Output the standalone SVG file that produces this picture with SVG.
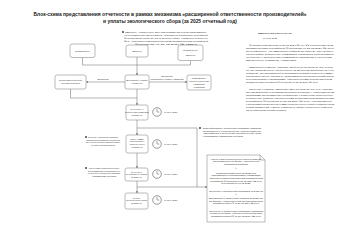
<svg xmlns="http://www.w3.org/2000/svg" width="340" height="240" viewBox="0 0 340 240">
<defs>
<style>
text{font-family:"Liberation Sans",Arial,sans-serif;fill:#333}
.title{font-size:5px;font-weight:bold;fill:#222;text-anchor:middle}
.n{font-size:2.1px;text-anchor:middle}
.p{font-size:2.2px}
.c{text-anchor:middle}
.node rect,.box{fill:#fff;stroke:#777;stroke-width:0.5}
.conn path{stroke:#666;stroke-width:0.5;fill:none}
.clk circle{fill:#fff;stroke:#555;stroke-width:0.6}
.clk path{stroke:#555;stroke-width:0.5;fill:none}
.dot{fill:#444}
</style>
<marker id="ah" viewBox="0 0 6 6" refX="5" refY="3" markerWidth="4" markerHeight="4" orient="auto"><path d="M0,0L6,3L0,6Z" fill="#666"/></marker>
</defs>
<rect width="340" height="240" fill="#fff"/>

<g id="title">
<text class="title" x="170" y="15.5" textLength="273" lengthAdjust="spacingAndGlyphs">Блок-схема представления отчетности в рамках механизма «расширенной ответственности производителей»</text>
<text class="title" x="170" y="22.5" textLength="134" lengthAdjust="spacingAndGlyphs">и уплаты экологического сбора (за 2025 отчетный год)</text>
</g>

<g id="note-top" class="p">
<circle class="dot" cx="123" cy="32" r="1"/>
<text class="c" x="166" y="33" textLength="82" lengthAdjust="spacingAndGlyphs">Импортер – юридическое лицо или индивидуальный предприниматель,</text>
<text class="c" x="166" y="36" textLength="84" lengthAdjust="spacingAndGlyphs">осуществляющие ввоз товаров, упаковки на территорию Российской</text>
<text class="c" x="166" y="39" textLength="84" lengthAdjust="spacingAndGlyphs">Федерации из стран ЕАЭС и третьих стран, указанных в перечне</text>
<text class="c" x="166" y="42" textLength="84" lengthAdjust="spacingAndGlyphs">№ 1, утвержденном распоряжением Правительства Российской</text>
<text class="c" x="166" y="45" textLength="62" lengthAdjust="spacingAndGlyphs">Федерации от 31.12.2024 № 4255-р</text>
</g>

<g id="right-column" class="p">
<text x="258" y="34" textLength="34" lengthAdjust="spacingAndGlyphs" style="font-weight:bold">ИМПОРТ ИЗ СТРАН ЕАЭС</text>
<text x="263" y="39" textLength="14" lengthAdjust="spacingAndGlyphs">С 01.01.2025</text>
<text x="249" y="46" textLength="84" lengthAdjust="spacingAndGlyphs">Федеральным законом от 26.12.2024 № 499-ФЗ и постановлением</text>
<text x="246" y="49" textLength="88" lengthAdjust="spacingAndGlyphs">Правительства Российской Федерации от 31.12.2024 № 1996</text>
<text x="246" y="52" textLength="87" lengthAdjust="spacingAndGlyphs">предусмотрено, что импортеры товаров из стран ЕАЭС обязаны</text>
<text x="246" y="55" textLength="88" lengthAdjust="spacingAndGlyphs">обеспечивать выполнение нормативов утилизации и представлять</text>
<text x="246" y="58" textLength="86" lengthAdjust="spacingAndGlyphs">отчетность о выполнении нормативов утилизации в отношении</text>
<text x="246" y="61" textLength="50" lengthAdjust="spacingAndGlyphs">ввезенных товаров, упаковки</text>
<text x="249" y="68" textLength="84" lengthAdjust="spacingAndGlyphs">Импортеры товаров, упаковки, ввезенных из стран ЕАЭС, в срок</text>
<text x="246" y="71" textLength="88" lengthAdjust="spacingAndGlyphs">до 15 числа месяца, следующего за месяцем принятия на учет</text>
<text x="246" y="74" textLength="87" lengthAdjust="spacingAndGlyphs">товаров, представляют в Росприроднадзор расчет суммы</text>
<text x="246" y="77" textLength="88" lengthAdjust="spacingAndGlyphs">экологического сбора и уплачивают экологический сбор</text>
<text x="246" y="80" textLength="86" lengthAdjust="spacingAndGlyphs">в соответствии с Правилами, утвержденными постановлением</text>
<text x="246" y="83" textLength="72" lengthAdjust="spacingAndGlyphs">Правительства Российской Федерации от 31.12.2024 № 1996</text>
<text x="249" y="90" textLength="84" lengthAdjust="spacingAndGlyphs">Сведения о товарах, импортируемых из стран ЕАЭС, и их упаковке</text>
<text x="246" y="93" textLength="88" lengthAdjust="spacingAndGlyphs">представляются в Росприроднадзор в порядке, установленном</text>
<text x="246" y="96" textLength="87" lengthAdjust="spacingAndGlyphs">Правилами представления декларации о количестве выпущенных</text>
<text x="246" y="99" textLength="88" lengthAdjust="spacingAndGlyphs">в обращение товаров, утвержденными постановлением Правительства</text>
<text x="246" y="102" textLength="86" lengthAdjust="spacingAndGlyphs">Российской Федерации от 31.12.2024 № 1996, одновременно</text>
<text x="246" y="105" textLength="88" lengthAdjust="spacingAndGlyphs">с представлением расчета суммы экологического сбора с приложением</text>
<text x="246" y="108" textLength="86" lengthAdjust="spacingAndGlyphs">копий заявлений о ввозе товаров и уплате косвенных налогов</text>
<text x="246" y="111" textLength="40" lengthAdjust="spacingAndGlyphs">за соответствующий период</text>
</g>

<g class="conn">
<path d="M82.5,57.5V65H190.5V60.5"/>
<path d="M137,57V75" marker-end="url(#ah)"/>
<path d="M125,82H86.5" marker-end="url(#ah)"/>
<path d="M149,82H187" marker-end="url(#ah)"/>
<path d="M70.5,89V98H137"/>
<path d="M137,89V105" marker-end="url(#ah)"/>
<path d="M137,120V135" marker-end="url(#ah)"/>
<path d="M137,128H197V187"/>
<path d="M137,153V168" marker-end="url(#ah)"/>
<path d="M137,181V193" marker-end="url(#ah)"/>
<path d="M137,187H207" marker-end="url(#ah)"/>
</g>

<g class="p">
<text class="c" x="103" y="80" style="font-size:2px">Декларация</text>
<text class="c" x="167" y="77" style="font-size:2px">Декларация</text>
<text class="c" x="167" y="80" style="font-size:2px">Уведомление о самост. утилизации</text>
</g>

<g id="n-producer" class="node">
<rect x="70" y="44" width="25" height="13.5" rx="2"/>
<text class="n" x="82.5" y="51.5">Производитель</text>
</g>
<g id="n-importer" class="node">
<rect x="126" y="45" width="22" height="12" rx="2"/>
<text class="n" x="137" y="51.7">Импортер</text>
</g>
<g id="n-prodimp" class="node">
<rect x="178" y="45" width="25" height="15.5" rx="2"/>
<text class="n" x="190.5" y="50.5">Производитель</text>
<text class="n" x="190.5" y="53.3">+</text>
<text class="n" x="190.5" y="56.1">Импортер</text>
</g>
<g id="n-territorial" class="node">
<rect x="55" y="75" width="31" height="14" rx="2"/>
<text class="n" x="70.5" y="81.3">Территориальный орган</text>
<text class="n" x="70.5" y="84.3">Росприроднадзора</text>
</g>
<g id="n-declaration" class="node">
<rect x="125" y="75" width="24" height="14" rx="2"/>
<text class="n" x="137" y="81.3">Декларация о товарах</text>
<text class="n" x="137" y="84.3">в 2025 году</text>
</g>
<g id="n-notice" class="node">
<rect x="187" y="75" width="24" height="15" rx="2"/>
<text class="n" x="199" y="79.2">Информация о</text>
<text class="n" x="199" y="82">способе выполнения</text>
<text class="n" x="199" y="84.8">нормативов</text>
<text class="n" x="199" y="87.6">утилизации</text>
</g>

<g id="n-report" class="node">
<rect x="126" y="105" width="22" height="15" rx="2"/>
<text class="n" x="137" y="110">Отчетность о</text>
<text class="n" x="137" y="112.8">выполнении нормативов</text>
<text class="n" x="137" y="115.6">за 2025 год</text>
</g>
<g id="clk1" class="clk"><circle cx="157" cy="112" r="4.3"/><path d="M157,108.8V112H159.3"/></g>
<text class="p" x="164" y="113" style="font-size:2.1px">до 15.04.2026</text>

<g id="n-fee-calc" class="node">
<rect x="126" y="135" width="22" height="18" rx="2"/>
<text class="n" x="137" y="139.6">Расчет суммы</text>
<text class="n" x="137" y="142.4">экологического</text>
<text class="n" x="137" y="145.2">сбора и уплата</text>
<text class="n" x="137" y="148">за 2025 год</text>
</g>
<g id="clk2" class="clk"><circle cx="157" cy="144" r="4.3"/><path d="M157,140.8V144H159.3"/></g>
<text class="p" x="164" y="145" style="font-size:2.1px">до 15.04.2026</text>

<g id="n-packaging" class="node">
<rect x="125" y="168" width="23" height="13" rx="2"/>
<text class="n" x="136.5" y="172.5">Отчетность</text>
<text class="n" x="136.5" y="175.3">об упаковке и товарах</text>
<text class="n" x="136.5" y="178.1">за 2025 год</text>
</g>
<g id="clk3" class="clk"><circle cx="157" cy="174" r="4.3"/><path d="M157,170.8V174H159.3"/></g>
<text class="p" x="164" y="175" style="font-size:2.1px">до 15.04.2026</text>

<g id="n-payment" class="node">
<rect x="125" y="193" width="23" height="16" rx="2"/>
<text class="n" x="136.5" y="198.5">Уплата</text>
<text class="n" x="136.5" y="201.3">экологического сбора</text>
<text class="n" x="136.5" y="204.1">за 2025 год</text>
</g>
<g id="clk4" class="clk"><circle cx="157" cy="200" r="4.3"/><path d="M157,196.8V200H159.3"/></g>
<text class="p" x="164" y="201" style="font-size:2.1px">до 15.04.2026</text>

<g id="note-left1" class="p" style="font-size:2px">
<circle class="dot" cx="86" cy="137" r="1"/>
<text class="c" x="103" y="137.7" textLength="30" lengthAdjust="spacingAndGlyphs">Отчетность о выполнении нормативов</text>
<text class="c" x="103" y="140.5" textLength="34" lengthAdjust="spacingAndGlyphs">утилизации представляется в электронном</text>
<text class="c" x="103" y="143.3" textLength="34" lengthAdjust="spacingAndGlyphs">виде через личный кабинет природопользователя</text>
<text class="c" x="103" y="146.1" textLength="24" lengthAdjust="spacingAndGlyphs">на сайте Росприроднадзора</text>
</g>
<g id="note-left2" class="p" style="font-size:2px">
<circle class="dot" cx="86" cy="168" r="1"/>
<text class="c" x="104" y="168.7" textLength="30" lengthAdjust="spacingAndGlyphs">Расчет суммы экологического сбора</text>
<text class="c" x="104" y="171.5" textLength="32" lengthAdjust="spacingAndGlyphs">представляется одновременно с</text>
<text class="c" x="104" y="174.3" textLength="32" lengthAdjust="spacingAndGlyphs">отчетностью о выполнении нормативов</text>
<text class="c" x="104" y="177.1" textLength="24" lengthAdjust="spacingAndGlyphs">утилизации отходов</text>
</g>
<g id="note-right" class="p" style="font-size:2px">
<circle class="dot" cx="200" cy="128" r="1"/>
<text x="203" y="128.7" textLength="58" lengthAdjust="spacingAndGlyphs">Если информация о выполнении нормативов утилизации</text>
<text x="203" y="131.5" textLength="58" lengthAdjust="spacingAndGlyphs">представлена не в полном объеме, экологический сбор</text>
<text x="203" y="134.3" textLength="58" lengthAdjust="spacingAndGlyphs">уплачивается в отношении невыполненной части</text>
<text x="203" y="137.1" textLength="40" lengthAdjust="spacingAndGlyphs">нормативов утилизации отходов</text>
</g>

<g id="n-doc" class="node">
<path class="box" d="M207,155H260L265,160V222H207Z"/>
<path d="M260,155V160H265" fill="none" stroke="#777" stroke-width="0.5"/>
<g class="p" style="font-size:1.9px">
<text class="c" x="236" y="159.5" textLength="50" lengthAdjust="spacingAndGlyphs">Расчет суммы экологического сбора за 2025 год</text>
<text class="c" x="236" y="162.2" textLength="46" lengthAdjust="spacingAndGlyphs">представляется по форме, утвержденной</text>
<text class="c" x="236" y="164.9" textLength="24" lengthAdjust="spacingAndGlyphs">Росприроднадзором</text>
<text class="c" x="236" y="169.2">⇓</text>
<text class="c" x="236" y="173.5" textLength="40" lengthAdjust="spacingAndGlyphs">Экологический сбор за 2025 год</text>
<text class="c" x="236" y="176.2" textLength="50" lengthAdjust="spacingAndGlyphs">уплачивается в соответствии с Правилами,</text>
<text class="c" x="236" y="178.9" textLength="54" lengthAdjust="spacingAndGlyphs">утвержденными постановлением Правительства</text>
<text class="c" x="236" y="181.6" textLength="52" lengthAdjust="spacingAndGlyphs">Российской Федерации от 31.12.2024 № 1996</text>
<text class="c" x="236" y="184.3" textLength="30" lengthAdjust="spacingAndGlyphs">(в редакции от 06.03.2025)</text>
<text class="c" x="236" y="188">+</text>
<text class="c" x="236" y="191.5" textLength="54" lengthAdjust="spacingAndGlyphs">Отчетность о выполнении нормативов за 2025 год</text>
<text class="c" x="236" y="195.3">⇓</text>
<text class="c" x="236" y="199" textLength="54" lengthAdjust="spacingAndGlyphs">Декларация о количестве товаров за 2025 год</text>
<text class="c" x="236" y="201.7" textLength="54" lengthAdjust="spacingAndGlyphs">по форме, утвержденной постановлением</text>
<text class="c" x="236" y="204.4" textLength="46" lengthAdjust="spacingAndGlyphs">Правительства РФ от 31.12.2024 № 1996</text>
<text class="c" x="236" y="208">+</text>
<text class="c" x="236" y="211.5" textLength="54" lengthAdjust="spacingAndGlyphs">Отчетность о выполнении нормативов утилизации</text>
<text class="c" x="236" y="214.2" textLength="52" lengthAdjust="spacingAndGlyphs">за 2025 год по форме, утвержденной постановлением</text>
<text class="c" x="236" y="216.9" textLength="50" lengthAdjust="spacingAndGlyphs">Правительства РФ от 31.12.2024 № 1996</text>
</g>
</g>
</svg>
